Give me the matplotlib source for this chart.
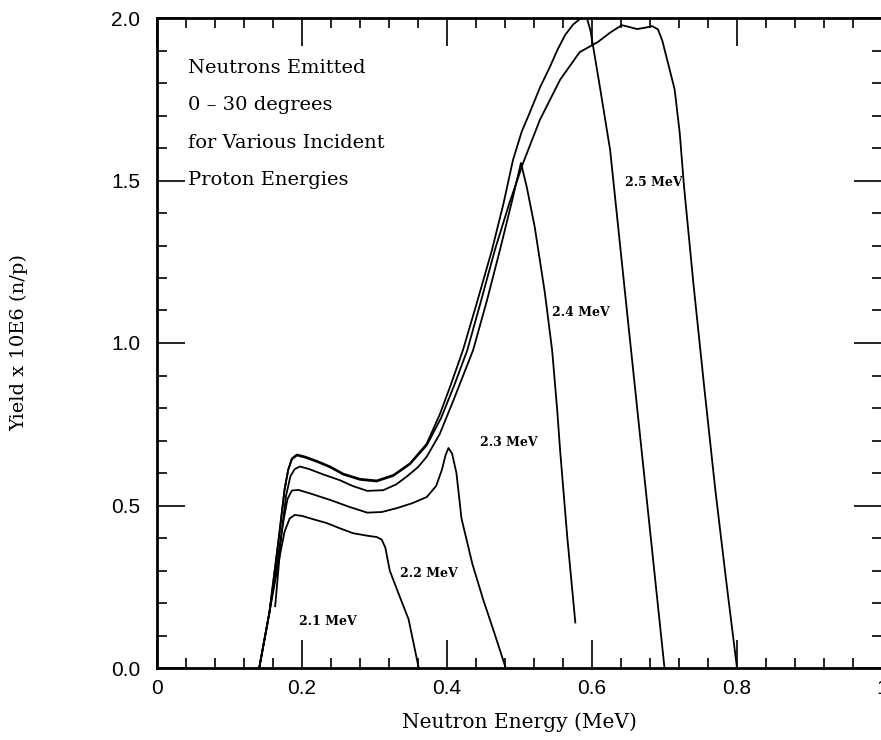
import numpy as np
import matplotlib.pyplot as plt
from matplotlib.ticker import MultipleLocator, FixedLocator, FixedFormatter

# neutron energy (MeV) and yield x 10E6 (n/p)
e_21 = [0.141, 0.155, 0.168, 0.176, 0.183, 0.190, 0.200, 0.215, 0.234, 0.252,
        0.270, 0.290, 0.303, 0.310, 0.315, 0.321, 0.333, 0.347, 0.361]
y_21 = [0.0, 0.17, 0.33, 0.42, 0.46, 0.471, 0.468, 0.458, 0.446, 0.430,
        0.415, 0.407, 0.403, 0.395, 0.37, 0.30, 0.23, 0.15, 0.0]

e_22 = [0.141, 0.155, 0.168, 0.175, 0.180, 0.186, 0.195, 0.210, 0.239, 0.265,
        0.290, 0.310, 0.331, 0.352, 0.372, 0.385, 0.393, 0.398, 0.402, 0.407,
        0.413, 0.420, 0.435, 0.450, 0.465, 0.481]
y_22 = [0.0, 0.17, 0.36, 0.46, 0.52, 0.546, 0.548, 0.538, 0.517, 0.496,
        0.478, 0.480, 0.492, 0.507, 0.526, 0.56, 0.61, 0.655, 0.677, 0.66,
        0.60, 0.46, 0.32, 0.21, 0.11, 0.0]

e_23 = [0.163, 0.172, 0.178, 0.184, 0.190, 0.197, 0.210, 0.230, 0.252, 0.270,
        0.290, 0.312, 0.330, 0.345, 0.360, 0.372, 0.390, 0.410, 0.436, 0.455,
        0.473, 0.490, 0.502, 0.510, 0.521, 0.535, 0.545, 0.552, 0.556, 0.566,
        0.577]
y_23 = [0.19, 0.42, 0.53, 0.59, 0.612, 0.62, 0.612, 0.595, 0.578, 0.560,
        0.545, 0.547, 0.565, 0.59, 0.618, 0.65, 0.72, 0.83, 0.978, 1.13,
        1.286, 1.44, 1.554, 1.48, 1.357, 1.154, 0.978, 0.794, 0.67, 0.40,
        0.14]

e_24 = [0.141, 0.155, 0.168, 0.176, 0.181, 0.186, 0.193, 0.205, 0.222, 0.239,
        0.257, 0.280, 0.303, 0.326, 0.349, 0.372, 0.390, 0.405, 0.422, 0.442,
        0.462, 0.478, 0.491, 0.503, 0.514, 0.528, 0.542, 0.553, 0.563, 0.574,
        0.585, 0.593, 0.598, 0.610, 0.625, 0.650, 0.675, 0.700]
y_24 = [0.0, 0.17, 0.40, 0.55, 0.61, 0.645, 0.657, 0.650, 0.636, 0.62,
        0.598, 0.582, 0.577, 0.594, 0.63, 0.69, 0.78, 0.87, 0.978, 1.13,
        1.286, 1.43, 1.563, 1.65, 1.708, 1.785, 1.85, 1.905, 1.948, 1.98,
        2.0, 2.0, 1.96, 1.80, 1.594, 1.06, 0.53, 0.0]

e_25 = [0.141, 0.155, 0.168, 0.176, 0.181, 0.186, 0.193, 0.205, 0.222, 0.239,
        0.257, 0.280, 0.303, 0.326, 0.349, 0.372, 0.392, 0.410, 0.428, 0.447,
        0.466, 0.486, 0.505, 0.528, 0.556, 0.583, 0.608, 0.625, 0.641, 0.652,
        0.662, 0.673, 0.683, 0.691, 0.697, 0.705, 0.714, 0.721, 0.727, 0.740,
        0.755, 0.770, 0.785, 0.800]
y_25 = [0.0, 0.17, 0.40, 0.55, 0.61, 0.642, 0.654, 0.647, 0.633, 0.617,
        0.595, 0.579, 0.574, 0.591, 0.627, 0.685, 0.77, 0.87, 0.978, 1.13,
        1.286, 1.43, 1.554, 1.686, 1.81, 1.895, 1.926, 1.955, 1.978, 1.972,
        1.966, 1.970, 1.975, 1.965, 1.93, 1.86, 1.78, 1.646, 1.48, 1.18,
        0.86, 0.55, 0.27, 0.0]

curves = [(e_21, y_21), (e_22, y_22), (e_23, y_23), (e_24, y_24), (e_25, y_25)]

labels = ['2.1 MeV', '2.2 MeV', '2.3 MeV', '2.4 MeV', '2.5 MeV']
label_e = [0.196, 0.335, 0.446, 0.545, 0.646]
label_y = [0.142, 0.292, 0.695, 1.095, 1.495]

note_lines = ['Neutrons Emitted', '0 \u2013 30 degrees',
              'for Various Incident', 'Proton Energies']

fig = plt.figure(figsize=(8.81, 7.4), dpi=100)
ax = fig.add_axes([157 / 881, 72 / 740, 725 / 881, 650 / 740])

for e, y in curves:
    ax.plot(e, y, color='black', lw=1.3)

for lab, x, y in zip(labels, label_e, label_y):
    ax.text(x, y, lab, fontsize=9, fontweight='bold', family='DejaVu Serif',
            va='center', ha='left')

for i, line in enumerate(note_lines):
    ax.text(0.043, 1.846 - i * 0.115, line, fontsize=14, family='DejaVu Serif',
            va='center', ha='left')

ax.set_xlim(0, 1)
ax.set_ylim(0, 2)

ax.xaxis.set_major_locator(FixedLocator([0, 0.2, 0.4, 0.6, 0.8, 1.0]))
ax.xaxis.set_major_formatter(FixedFormatter(['0', '0.2', '0.4', '0.6', '0.8', '1']))
ax.xaxis.set_minor_locator(MultipleLocator(0.04))
ax.yaxis.set_major_locator(MultipleLocator(0.5))
ax.yaxis.set_minor_locator(MultipleLocator(0.1))
ax.yaxis.set_major_formatter(plt.FormatStrFormatter('%.1f'))

ax.tick_params(which='both', direction='in', top=True, right=True, width=1.2,
               labelsize=15)
ax.tick_params(axis='x', which='both', pad=8)
ax.tick_params(axis='y', which='both', pad=12)
ax.tick_params(which='major', length=20)
ax.tick_params(which='minor', length=7)
for lab in ax.get_xticklabels() + ax.get_yticklabels():
    lab.set_family('Liberation Sans')

for s in ax.spines.values():
    s.set_linewidth(2)

ax.set_xlabel('Neutron Energy (MeV)', fontsize=14.5, family='DejaVu Serif', labelpad=10)
ax.set_ylabel('Yield x 10E6 (n/p)', fontsize=14, family='DejaVu Serif', labelpad=60)

fig.savefig('out.png', dpi=100)
